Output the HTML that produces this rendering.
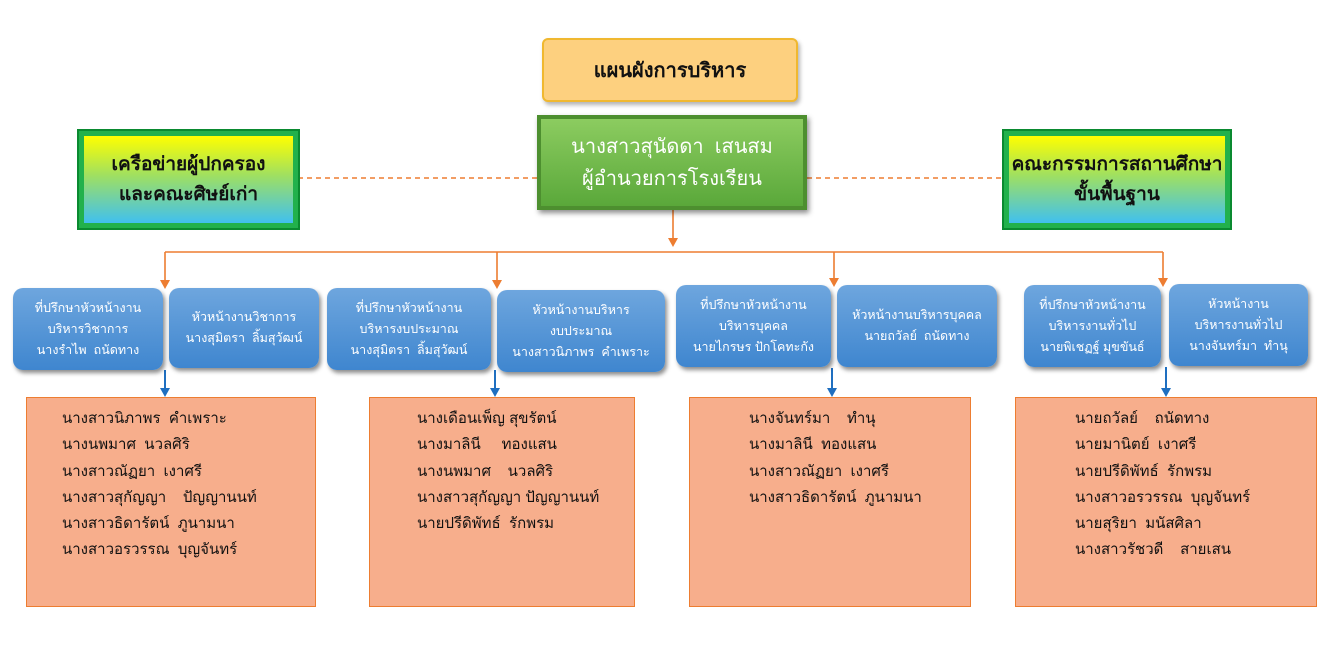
<!DOCTYPE html><html><head><meta charset="utf-8"><style>
body{margin:0;width:1341px;height:659px;background:#fff;position:relative;font-family:"Liberation Sans","DejaVu Sans",sans-serif;overflow:hidden}
.a{position:absolute;box-sizing:border-box}
.blue{background:linear-gradient(#6ea6de,#3f86cf);border-radius:10px;color:#fff;font-size:12.5px;line-height:21px;text-align:center;display:flex;align-items:center;justify-content:center;box-shadow:2px 3px 4px rgba(0,0,0,.45)}
.or{background:#f7ae8c;border:1.5px solid #ed7d31;font-size:15px;line-height:26.3px;color:#111;padding-top:8px}
.side{border:5px solid #22b14c;outline:2px solid #0a8a30;background:linear-gradient(#ffff00,#a0e060 45%,#40c0f0);display:flex;align-items:center;justify-content:center;text-align:center;font-size:19px;font-weight:bold;line-height:30px;color:#111}
</style></head><body>
<svg class="a" style="left:0;top:0" width="1341" height="659">
<defs><marker id="o" markerWidth="8" markerHeight="8" refX="4" refY="6" orient="auto"><path d="M0,0 L8,0 L4,8z" fill="#ed7d31" transform="rotate(-90 4 4)"/></marker></defs>
<g stroke="#ed7d31" stroke-width="1.6" fill="none">
<line x1="298" y1="178" x2="537" y2="178" stroke-dasharray="5,4"/>
<line x1="807" y1="178" x2="1003" y2="178" stroke-dasharray="5,4"/>
<line x1="673" y1="210" x2="673" y2="240"/>
<line x1="165" y1="252" x2="1163" y2="252"/>
<line x1="165" y1="252" x2="165" y2="282"/><line x1="497" y1="252" x2="497" y2="282"/><line x1="834" y1="252" x2="834" y2="280"/><line x1="1163" y1="252" x2="1163" y2="280"/>
</g>
<g fill="#ed7d31"><path d="M668,238h10l-5,9z"/><path d="M160,280h10l-5,9z"/><path d="M492,280h10l-5,9z"/><path d="M829,278h10l-5,9z"/><path d="M1158,278h10l-5,9z"/></g>
<g stroke="#1f6fc0" stroke-width="2"><line x1="165" y1="370" x2="165" y2="390"/><line x1="495" y1="370" x2="495" y2="390"/><line x1="832" y1="368" x2="832" y2="390"/><line x1="1166" y1="367" x2="1166" y2="390"/></g>
<g fill="#1f6fc0"><path d="M160,388h10l-5,9z"/><path d="M490,388h10l-5,9z"/><path d="M827,388h10l-5,9z"/><path d="M1161,388h10l-5,9z"/></g>
</svg>
<div class="a" style="left:542px;top:38px;width:256px;height:64px;background:#fdd07f;border:2px solid #f0b830;border-radius:6px;box-shadow:2px 3px 4px rgba(0,0,0,.3);display:flex;align-items:center;justify-content:center;font-size:20px;font-weight:bold;color:#111">แผนผังการบริหาร</div>
<div class="a" style="left:537px;top:115px;width:270px;height:95px;background:linear-gradient(#8ccc60,#5aa83a);border:4px solid #4d8f2f;box-shadow:2px 3px 5px rgba(0,0,0,.45);display:flex;align-items:center;justify-content:center;text-align:center;color:#fff;font-size:20px;line-height:32px">นางสาวสุนัดดา&nbsp; เสนสม<br>ผู้อำนวยการโรงเรียน</div>
<div class="a side" style="left:79px;top:131px;width:219px;height:97px">เครือข่ายผู้ปกครอง<br>และคณะศิษย์เก่า</div>
<div class="a side" style="left:1004px;top:131px;width:226px;height:97px">คณะกรรมการสถานศึกษา<br>ขั้นพื้นฐาน</div>
<div class="a blue" style="left:13px;top:288px;width:150px;height:82px">ที่ปรึกษาหัวหน้างาน<br>บริหารวิชาการ<br>นางรำไพ&nbsp; ถนัดทาง</div>
<div class="a blue" style="left:169px;top:288px;width:150px;height:80px">หัวหน้างานวิชาการ<br>นางสุมิตรา&nbsp; ลิ้มสุวัฒน์</div>
<div class="a blue" style="left:327px;top:288px;width:164px;height:82px">ที่ปรึกษาหัวหน้างาน<br>บริหารงบประมาณ<br>นางสุมิตรา&nbsp; ลิ้มสุวัฒน์</div>
<div class="a blue" style="left:497px;top:290px;width:168px;height:82px">หัวหน้างานบริหาร<br>งบประมาณ<br>นางสาวนิภาพร&nbsp; คำเพราะ</div>
<div class="a blue" style="left:676px;top:285px;width:155px;height:82px">ที่ปรึกษาหัวหน้างาน<br>บริหารบุคคล<br>นายไกรษร ปักโคทะกัง</div>
<div class="a blue" style="left:837px;top:285px;width:160px;height:82px">หัวหน้างานบริหารบุคคล<br>นายถวัลย์&nbsp; ถนัดทาง</div>
<div class="a blue" style="left:1024px;top:285px;width:137px;height:82px">ที่ปรึกษาหัวหน้างาน<br>บริหารงานทั่วไป<br>นายพิเชฏฐ์ มุขขันธ์</div>
<div class="a blue" style="left:1169px;top:284px;width:139px;height:82px">หัวหน้างาน<br>บริหารงานทั่วไป<br>นางจันทร์มา&nbsp; ทำนุ</div>
<div class="a or" style="left:26px;top:397px;width:290px;height:210px;padding-left:35px">นางสาวนิภาพร&nbsp; คำเพราะ<br>นางนพมาศ&nbsp; นวลศิริ<br>นางสาวณัฏยา&nbsp; เงาศรี<br>นางสาวสุกัญญา&nbsp;&nbsp;&nbsp; ปัญญานนท์<br>นางสาวธิดารัตน์&nbsp; ภูนามนา<br>นางสาวอรวรรณ&nbsp; บุญจันทร์</div>
<div class="a or" style="left:369px;top:397px;width:266px;height:210px;padding-left:47px">นางเดือนเพ็ญ สุขรัตน์<br>นางมาลินี&nbsp;&nbsp;&nbsp;&nbsp; ทองแสน<br>นางนพมาศ&nbsp;&nbsp;&nbsp; นวลศิริ<br>นางสาวสุกัญญา ปัญญานนท์<br>นายปรีดิพัทธ์&nbsp; รักพรม</div>
<div class="a or" style="left:689px;top:397px;width:282px;height:210px;padding-left:59px">นางจันทร์มา&nbsp;&nbsp;&nbsp; ทำนุ<br>นางมาลินี&nbsp; ทองแสน<br>นางสาวณัฏยา&nbsp; เงาศรี<br>นางสาวธิดารัตน์&nbsp; ภูนามนา</div>
<div class="a or" style="left:1015px;top:397px;width:302px;height:210px;padding-left:59px">นายถวัลย์&nbsp;&nbsp;&nbsp; ถนัดทาง<br>นายมานิตย์&nbsp; เงาศรี<br>นายปรีดิพัทธ์&nbsp; รักพรม<br>นางสาวอรวรรณ&nbsp; บุญจันทร์<br>นายสุริยา&nbsp; มนัสศิลา<br>นางสาวรัชวดี&nbsp;&nbsp;&nbsp; สายเสน</div>
</body></html>
